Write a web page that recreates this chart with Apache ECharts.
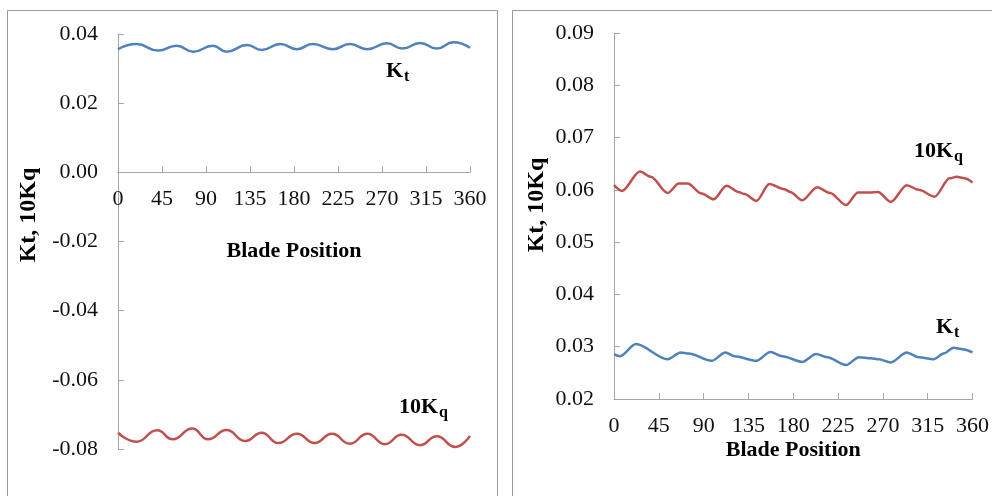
<!DOCTYPE html>
<html>
<head>
<meta charset="utf-8">
<script src="https://cdn.jsdelivr.net/npm/echarts@6/dist/echarts.min.js"></script>
<style>
  html, body { margin: 0; padding: 0; background: #fff; }
  #chart { width: 992px; height: 496px; }
</style>
</head>
<body>
<div id="chart"></div>
<script>
// Left panel: thrust (Kt) and torque (10Kq) coefficients versus blade position
const leftKtAngles = [0, 19, 41, 60, 77, 97, 111, 132, 147, 166, 183, 199, 220, 237, 255, 275, 291, 309, 326, 343, 360];
const leftKtValues = [0.0356, 0.0371, 0.0352, 0.0366, 0.0349, 0.0366, 0.0349, 0.0368, 0.0354, 0.0371, 0.0356, 0.0371, 0.0356, 0.0371, 0.0356, 0.0373, 0.0358, 0.0374, 0.0358, 0.0376, 0.0360];

const leftKqAngles = [0, 19, 40, 56, 76, 92, 111, 130, 147, 164, 183, 201, 219, 237, 255, 273, 290, 309, 326, 345, 360];
const leftKqValues = [-0.0753, -0.0779, -0.0746, -0.0772, -0.0741, -0.0772, -0.0745, -0.0777, -0.0753, -0.0783, -0.0756, -0.0783, -0.0756, -0.0785, -0.0756, -0.0786, -0.0759, -0.0789, -0.0763, -0.0794, -0.0762];

// Right panel
const rightKqAngles = [0, 8, 26, 37, 54, 65, 74, 88, 100, 113, 125, 131, 143, 156, 171, 177, 189, 204, 217, 233, 245, 257, 265, 278, 294, 306, 322, 337, 344, 352, 360];
const rightKqValues = [0.0609, 0.0598, 0.0635, 0.0625, 0.0594, 0.0612, 0.0612, 0.0593, 0.0582, 0.0608, 0.0596, 0.0592, 0.0579, 0.0611, 0.0601, 0.0596, 0.0580, 0.0605, 0.0594, 0.0571, 0.0595, 0.0595, 0.0596, 0.0577, 0.0609, 0.0600, 0.0587, 0.0622, 0.0625, 0.0622, 0.0614];

const rightKtAngles = [0, 6, 22, 54, 67, 75, 98, 112, 121, 143, 157, 169, 189, 203, 214, 233, 246, 258, 266, 278, 294, 306, 321, 331, 341, 350, 360];
const rightKtValues = [0.0286, 0.0282, 0.0305, 0.0276, 0.0289, 0.0287, 0.0273, 0.0289, 0.0282, 0.0273, 0.0290, 0.0282, 0.0271, 0.0286, 0.0280, 0.0265, 0.0280, 0.0278, 0.0276, 0.0270, 0.0289, 0.0280, 0.0276, 0.0287, 0.0298, 0.0295, 0.0289];

const xTicks = { min: 0, max: 360, interval: 45 };
const leftYRange = { min: -0.08, max: 0.04, interval: 0.02 };
const rightYRange = { min: 0.02, max: 0.09, interval: 0.01 };

const FONT = "'Liberation Serif', 'Times New Roman', serif";
const BLUE = '#4f81bd';
const RED = '#c0504d';
const AXIS_GRAY = '#a6a6a6';

// plot areas (px)
const leftGrid = { left: 118, right: 522, top: 34, bottom: 47 };
const rightGrid = { left: 614, right: 14, top: 33, bottom: 97 };
const CHART_H = 496;

function pairs(xs, ys) { return xs.map((x, i) => [x, ys[i]]); }

// pixel distance from the bottom of a grid up to the value 0 of its y range
function zeroLift(grid, range) {
  const h = CHART_H - grid.top - grid.bottom;
  return h * (0 - range.min) / (range.max - range.min);
}

function xAxisFor(gridIndex, nameGap, offset) {
  return {
    type: 'value', gridIndex,
    min: xTicks.min, max: xTicks.max, interval: xTicks.interval,
    offset,
    name: 'Blade Position', nameLocation: 'middle', nameGap,
    nameMoveOverlap: false,
    nameTextStyle: { fontFamily: FONT, fontWeight: 'bold', fontSize: 22, color: '#000' },
    axisLine: { onZero: false, lineStyle: { color: AXIS_GRAY, width: 1 } },
    axisTick: { inside: true, length: 6, lineStyle: { color: AXIS_GRAY } },
    axisLabel: { fontFamily: FONT, fontSize: 22, color: '#111', margin: 16 },
    splitLine: { show: false }
  };
}

function yAxisFor(gridIndex, range) {
  return {
    type: 'value', gridIndex,
    min: range.min, max: range.max, interval: range.interval,
    axisLine: { show: true, onZero: false, lineStyle: { color: AXIS_GRAY, width: 1 } },
    axisTick: { show: true, inside: true, length: 6, lineStyle: { color: AXIS_GRAY } },
    axisLabel: { fontFamily: FONT, fontSize: 22, color: '#111', margin: 20,
      formatter: v => Number(v).toFixed(2) },
    splitLine: { show: false }
  };
}

function lineSeries(xi, yi, data, color, smooth) {
  return {
    type: 'line', xAxisIndex: xi, yAxisIndex: yi, data,
    smooth, smoothMonotone: 'x', showSymbol: false,
    lineStyle: { color, width: 2.5 }, itemStyle: { color },
    animation: false
  };
}

function coefLabel(x, y, main, sub) {
  return {
    type: 'text', x, y,
    style: {
      text: '{m|' + main + '}{s|' + sub + '}',
      textVerticalAlign: 'middle',
      rich: {
        m: { fontFamily: FONT, fontWeight: 'bold', fontSize: 22, color: '#000' },
        s: { fontFamily: FONT, fontWeight: 'bold', fontSize: 16, color: '#000', padding: [12, 0, 0, 1] }
      }
    }
  };
}

const chart = echarts.init(document.getElementById('chart'), null, { renderer: 'canvas' });
chart.setOption({
  backgroundColor: '#fff',
  animation: false,
  grid: [leftGrid, rightGrid],
  xAxis: [
    // the left x axis crosses the y axis at zero
    xAxisFor(0, 68, -zeroLift(leftGrid, leftYRange)),
    xAxisFor(1, 40, 0)
  ],
  yAxis: [yAxisFor(0, leftYRange), yAxisFor(1, rightYRange)],
  series: [
    lineSeries(0, 0, pairs(leftKtAngles, leftKtValues), BLUE, 0.5),
    lineSeries(0, 0, pairs(leftKqAngles, leftKqValues), RED, 0.5),
    lineSeries(1, 1, pairs(rightKqAngles, rightKqValues), RED, 0.3),
    lineSeries(1, 1, pairs(rightKtAngles, rightKtValues), BLUE, 0.3)
  ],
  graphic: [
    // panel frames
    { type: 'rect', shape: { x: 7.5, y: 10.5, width: 490, height: 520 },
      style: { fill: null, stroke: '#9a9a9a', lineWidth: 1 } },
    { type: 'rect', shape: { x: 512.5, y: 10.5, width: 520, height: 520 },
      style: { fill: null, stroke: '#9a9a9a', lineWidth: 1 } },
    // vertical axis titles
    { type: 'text', x: 29, y: 215, rotation: Math.PI / 2,
      style: { text: 'Kt, 10Kq', fontFamily: FONT, fontWeight: 'bold', fontSize: 24,
        fill: '#000', textAlign: 'center', textVerticalAlign: 'middle' } },
    { type: 'text', x: 537, y: 205, rotation: Math.PI / 2,
      style: { text: 'Kt, 10Kq', fontFamily: FONT, fontWeight: 'bold', fontSize: 24,
        fill: '#000', textAlign: 'center', textVerticalAlign: 'middle' } },
    // curve labels
    coefLabel(386, 71, 'K', 't'),
    coefLabel(399, 407, '10K', 'q'),
    coefLabel(914, 151, '10K', 'q'),
    coefLabel(936, 327, 'K', 't')
  ]
});
</script>
</body>
</html>
